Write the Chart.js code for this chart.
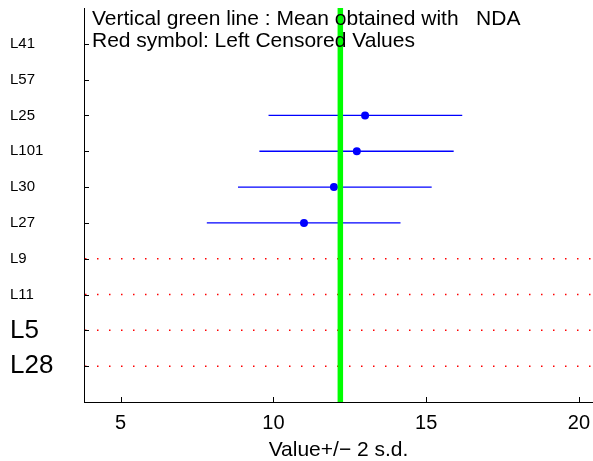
<!DOCTYPE html>
<html>
<head>
<meta charset="utf-8">
<script src="https://cdn.jsdelivr.net/npm/chart.js@4/dist/chart.umd.min.js"></script>
<style>
  body { margin: 0; background: #fff; }
</style>
</head>
<body>
<canvas id="chart" width="593" height="461"></canvas>
<script>
// data, rows from top to bottom
const labs = ['L41', 'L57', 'L25', 'L101', 'L30', 'L27', 'L9', 'L11', 'L5', 'L28'];
const rowPos = [10, 9, 8, 7, 6, 5, 4, 3, 2, 1];
const means = [null, null, 13.0, 12.73, 11.98, 11.0, null, null, null, null];
const lows = [null, null, 9.84, 9.54, 8.84, 7.82, null, null, null, null];
const highs = [null, null, 16.18, 15.9, 15.18, 14.16, null, null, null, null];
const censored = ['L9', 'L11', 'L5', 'L28'];
const ndaMean = 12.19;
const xTicks = [5, 10, 15, 20];
const xMin = 3.8, xMax = 20.46;
const yMin = 0, yMax = 11;

const bigLabs = ['L5', 'L28'];
const FONT = "'Liberation Sans', Arial, Helvetica, sans-serif";

var datasets = [];

// green mean line (first = drawn on top)
datasets.push({
    data: [{x: ndaMean, y: yMin}, {x: ndaMean, y: yMax}],
    showLine: true,
    borderColor: '#00ff00',
    borderWidth: 5.5,
    pointRadius: 0
});

// means
var pts = [];
for (var i = 0; i < labs.length; i++) {
    if (means[i] !== null) pts.push({x: means[i], y: rowPos[i]});
}
datasets.push({
    data: pts,
    showLine: false,
    pointRadius: 4,
    pointBackgroundColor: '#0000ff',
    pointBorderWidth: 0
});

// error bars
for (var i = 0; i < labs.length; i++) {
    if (lows[i] === null) continue;
    datasets.push({
        data: [{x: lows[i], y: rowPos[i]}, {x: highs[i], y: rowPos[i]}],
        showLine: true,
        borderColor: '#0000ff',
        borderWidth: 1.3,
        pointRadius: 0
    });
}

// left censored rows: red dotted lines
for (var i = 0; i < labs.length; i++) {
    if (censored.indexOf(labs[i]) < 0) continue;
    datasets.push({
        data: [{x: xMin, y: rowPos[i]}, {x: xMax, y: rowPos[i]}],
        showLine: true,
        borderColor: '#ff0000',
        borderWidth: 1.5,
        borderDash: [1.5, 10.5],
        borderDashOffset: -1,
        pointRadius: 0
    });
}

// inward tick marks + note text
const extras = {
    id: 'extras',
    afterDraw(chart) {
        const c = chart.ctx;
        const a = chart.chartArea;
        const xs = chart.scales.x, ys = chart.scales.y;
        c.save();
        c.strokeStyle = '#000';
        c.lineWidth = 1;
        c.beginPath();
        ys.ticks.forEach(function(t) {
            var py = Math.round(ys.getPixelForValue(t.value)) + 0.5;
            c.moveTo(a.left, py);
            c.lineTo(a.left + 5, py);
        });
        xs.ticks.forEach(function(t) {
            var px = Math.round(xs.getPixelForValue(t.value)) + 0.5;
            c.moveTo(px, a.bottom);
            c.lineTo(px, a.bottom - 5);
        });
        c.stroke();

        c.fillStyle = '#000';
        c.font = '21px ' + FONT;
        c.textAlign = 'left';
        c.textBaseline = 'alphabetic';
        c.fillText('Vertical green line : Mean obtained with   NDA', a.left + 8, 25);
        c.fillText('Red symbol: Left Censored Values', a.left + 8, 47);
        c.restore();
    }
};

function noPad(scale) {
    scale.paddingTop = 0;
    scale.paddingBottom = 0;
    scale.paddingLeft = 0;
    scale.paddingRight = 0;
}

new Chart(document.getElementById('chart'), {
    type: 'scatter',
    data: { datasets: datasets },
    options: {
        responsive: false,
        animation: false,
        layout: {
            autoPadding: false,
            padding: { left: 10, top: 8, right: 0, bottom: 0 }
        },
        plugins: {
            legend: { display: false },
            tooltip: { enabled: false }
        },
        scales: {
            x: {
                type: 'linear',
                min: xMin,
                max: xMax,
                afterBuildTicks: function(scale) {
                    scale.ticks = xTicks.map(function(v) { return {value: v}; });
                },
                afterFit: function(scale) { scale.height = 59; noPad(scale); },
                grid: { drawOnChartArea: false, drawTicks: false },
                border: { color: '#000', width: 1 },
                ticks: {
                    color: '#000',
                    padding: 9,
                    maxRotation: 0,
                    font: { family: FONT, size: 20 }
                },
                title: {
                    display: true,
                    text: 'Value+/\u2212 2 s.d.',
                    color: '#000',
                    padding: { top: 0, bottom: 0 },
                    font: { family: FONT, size: 21, lineHeight: 1 }
                }
            },
            y: {
                type: 'linear',
                min: yMin,
                max: yMax,
                afterBuildTicks: function(scale) {
                    scale.ticks = rowPos.map(function(v) { return {value: v}; });
                },
                afterFit: function(scale) { scale.width = 74; noPad(scale); },
                grid: { drawOnChartArea: false, drawTicks: false },
                border: { color: '#000', width: 1 },
                ticks: {
                    color: '#000',
                    crossAlign: 'far',
                    callback: function(v) { return labs[rowPos.indexOf(v)]; },
                    font: function(ctx) {
                        var name = ctx.tick ? labs[rowPos.indexOf(ctx.tick.value)] : '';
                        return { family: FONT, size: bigLabs.indexOf(name) >= 0 ? 26 : 15 };
                    }
                }
            }
        }
    },
    plugins: [extras]
});
</script>
</body>
</html>
